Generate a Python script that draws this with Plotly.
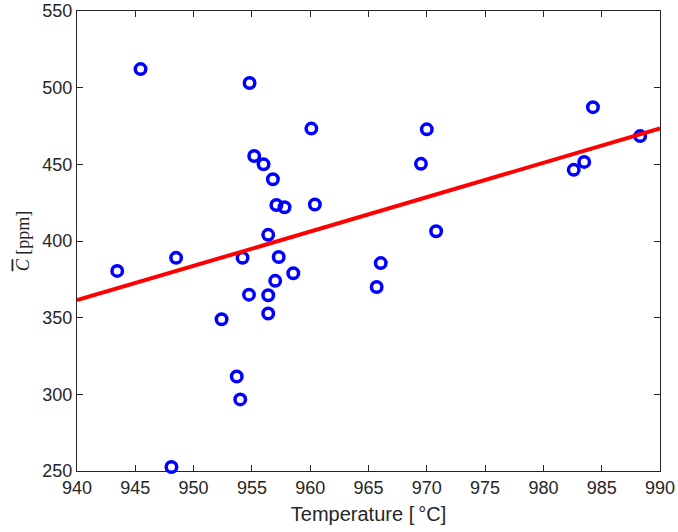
import plotly.graph_objects as go

temperature = [945.45, 954.8, 955.2, 956.0, 956.8, 957.1, 957.8, 956.4, 960.1, 960.4,
               954.2, 957.3, 948.5, 943.45, 958.55, 957.0, 954.75, 956.4, 956.4, 952.4,
               953.7, 954.0, 948.1, 966.05, 965.7, 969.5, 970.0, 970.8, 982.6, 983.5,
               984.25, 988.3]
concentration = [512.1, 503.0, 455.4, 450.0, 440.3, 423.5, 422.0, 404.0, 473.3, 423.8,
                 389.0, 389.6, 389.0, 380.5, 379.0, 374.0, 365.0, 364.6, 352.7, 349.0,
                 311.6, 296.7, 252.6, 385.6, 370.0, 450.3, 472.8, 406.4, 446.4, 451.6,
                 487.3, 468.4]
fit_x = [940, 990]
fit_y = [361.4, 473.4]

x_ticks = list(range(940, 991, 5))
y_ticks = list(range(250, 551, 50))

axis_color = "#262626"
font_family = "Liberation Sans, Arial, sans-serif"

fig = go.Figure()
fig.add_trace(go.Scatter(
    x=temperature, y=concentration, mode="markers",
    marker=dict(symbol="circle-open", size=10.5, color="#0000ff",
                line=dict(width=3.5, color="#0000ff")),
    showlegend=False, hoverinfo="skip", cliponaxis=False))
fig.add_trace(go.Scatter(
    x=fit_x, y=fit_y, mode="lines",
    line=dict(color="#ff0000", width=4),
    showlegend=False, hoverinfo="skip"))

axis_common = dict(
    showgrid=False, zeroline=False, showline=True, linecolor=axis_color,
    linewidth=1, mirror="ticks", ticks="inside", ticklen=6, tickcolor=axis_color,
    tickwidth=1, tickfont=dict(family=font_family, size=18, color=axis_color),
    automargin=False,
)

fig.update_layout(
    width=678, height=532,
    margin=dict(l=77, r=18, t=11, b=61),
    paper_bgcolor="white", plot_bgcolor="white",
    xaxis=dict(range=[940, 990], tickvals=x_ticks,
               title=dict(text="Temperature [\u2009°C]",
                          font=dict(family=font_family, size=20, color=axis_color),
                          standoff=10),
               **axis_common),
    yaxis=dict(range=[250, 550], tickvals=y_ticks,
               title=dict(text="<span style='text-decoration:overline'><i>C</i></span> [ppm]",
                          font=dict(family="Liberation Serif, Times New Roman, serif",
                                    size=18, color=axis_color),
                          standoff=8),
               **axis_common),
)

fig.write_html("out.html",
               config={"displayModeBar": False},
               post_script="document.body.style.margin='0';document.body.style.overflow='hidden';")
